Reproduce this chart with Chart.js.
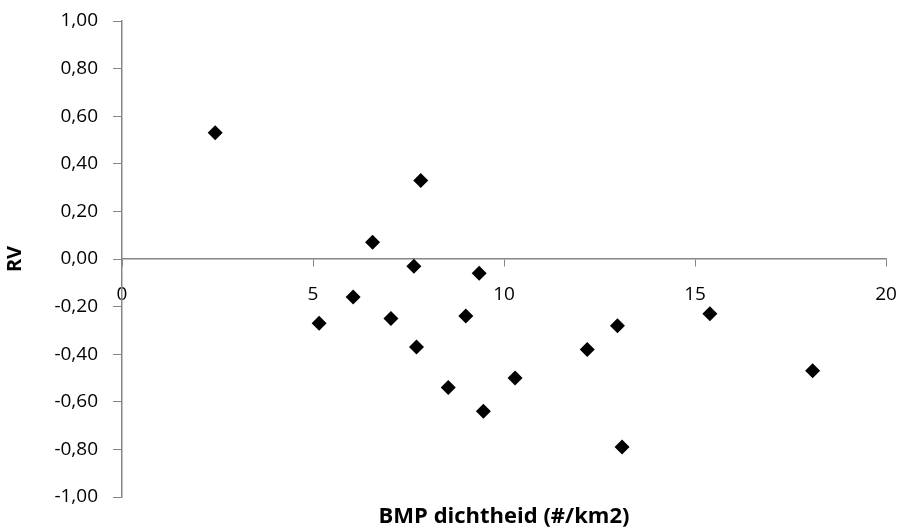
<!DOCTYPE html>
<html>
<head>
<meta charset="utf-8">
<script src="https://cdn.jsdelivr.net/npm/chart.js@4/dist/chart.umd.min.js"></script>
<style>
  html,body{margin:0;padding:0;background:#fff;}
  #wrap{width:901px;height:532px;}
</style>
</head>
<body>
<div id="wrap"><canvas id="chart" width="901" height="532"></canvas></div>
<script>
// --- Data ---
const density = [2.44, 5.16, 6.05, 6.56, 7.04, 7.64, 7.71, 7.82, 8.54, 9.0, 9.35, 9.46, 10.29, 12.18, 12.97, 13.09, 15.39, 18.08];
const rv      = [0.53, -0.27, -0.16, 0.07, -0.25, -0.03, -0.37, 0.33, -0.54, -0.24, -0.06, -0.64, -0.50, -0.38, -0.28, -0.79, -0.23, -0.47];
const xTitle = 'BMP dichtheid (#/km2)';
const yTitle = 'RV';

const axisColor = '#868686';
const fontFam = "'Open Sans', sans-serif";
const fmtComma = v => v.toFixed(2).replace('.', ',');

// labels of the axes may stick out, the chart area is fixed by layout padding
const noEdgePad = s => { s.paddingLeft = 0; s.paddingRight = 0; s.paddingTop = 0; s.paddingBottom = 0; };

// --- Chart ---
const ctx = document.getElementById('chart').getContext('2d');
new Chart(ctx, {
  type: 'scatter',
  data: {
    datasets: [{
      data: density.map((x, i) => ({x, y: rv[i]})),
      pointStyle: 'rectRot',
      pointRadius: 7.5,
      pointHoverRadius: 7.5,
      backgroundColor: '#000',
      borderColor: '#000',
      borderWidth: 0
    }]
  },
  options: {
    responsive: false,
    animation: false,
    layout: {padding: {top: 21, right: 15, left: 0, bottom: 0}},
    plugins: {legend: {display: false}, tooltip: {enabled: false}},
    scales: {
      x: {
        type: 'linear',
        position: {y: 0},
        min: 0, max: 20,
        ticks: {stepSize: 5, color: '#000', padding: 17, font: {family: fontFam, size: 19}, maxRotation: 0},
        grid: {display: true, drawOnChartArea: false, drawTicks: true, tickLength: 7, color: axisColor},
        border: {display: true, color: axisColor, width: 1.5},
        afterFit: noEdgePad
      },
      xTitle: {
        type: 'linear',
        axis: 'x',
        position: 'bottom',
        min: 0, max: 20,
        ticks: {display: false},
        grid: {display: false},
        border: {display: false},
        title: {display: true, text: xTitle, color: '#000', font: {family: fontFam, size: 22, weight: 'bold'}, padding: {top: 0, bottom: 2}},
        afterFit: s => { noEdgePad(s); s.height = 35; }
      },
      y: {
        type: 'linear',
        position: 'left',
        min: -1, max: 1,
        ticks: {stepSize: 0.2, color: '#000', padding: 15, font: {family: fontFam, size: 19}, callback: v => fmtComma(v)},
        grid: {display: true, drawOnChartArea: false, drawTicks: true, tickLength: 9, color: axisColor},
        border: {display: true, color: axisColor, width: 1.5},
        title: {display: true, text: yTitle, color: '#000', font: {family: fontFam, size: 20, weight: 'bold'}, padding: {top: 3, bottom: 0}},
        afterFit: s => { noEdgePad(s); s.width = 122; }
      }
    }
  }
});
</script>
</body>
</html>
